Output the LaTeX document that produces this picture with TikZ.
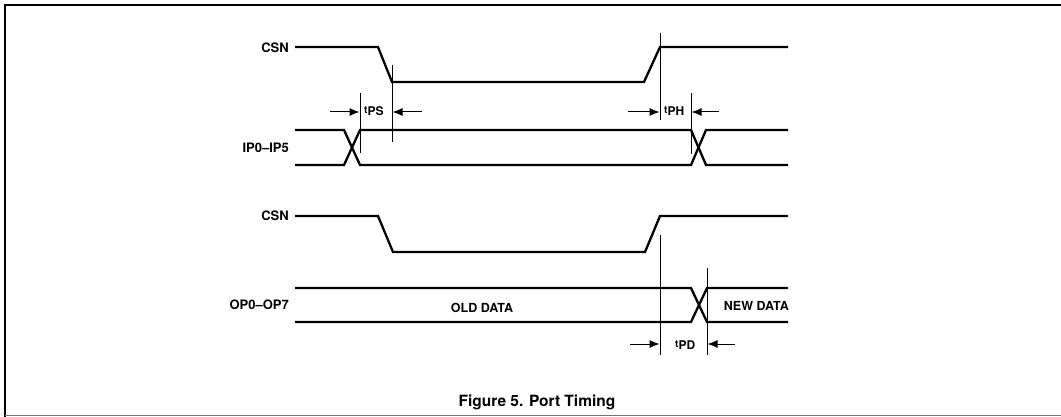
\documentclass[tikz,border=0pt]{standalone}
\usepackage{fontspec}
\setmainfont{TeX Gyre Heros}
\usetikzlibrary{arrows.meta}
\begin{document}
\begin{tikzpicture}[x=1pt,y=-1pt,
  sig/.style={line width=2.3pt,line join=miter},
  marker/.style={line width=1pt},
  dim/.style={line width=1pt,-{Latex[length=10pt,width=8pt]}},
  lbl/.style={font=\fontsize{13}{13}\selectfont\bfseries,inner sep=0pt,anchor=east},
  tlbl/.style={font=\fontsize{12}{12}\selectfont\bfseries,inner sep=0pt,anchor=west},
  dlbl/.style={font=\fontsize{12.5}{12.5}\selectfont\bfseries,inner sep=0pt}]
\useasboundingbox (0,0) rectangle (1061,417);
% frame
\draw[line width=2pt] (5,417) -- (5,5.5) -- (1061,5.5);
\draw[line width=1.5pt,black!55] (5,415.5) -- (1061,415.5);

% labels
\node[lbl] (csn1) at (289,48) {CSN};
\node[lbl] (ip) at (289,148) {IP0--IP5};
\node[lbl] (csn2) at (289,216) {CSN};
\node[lbl] (op) at (289,305) {OP0--OP7};

% CSN 1
\draw[sig] (295,47) -- (378,47) -- (392,82) -- (644,82) -- (660,47) -- (788,47);
% IP bus
\draw[sig] (295,130) -- (344,130) -- (360,165) -- (691,165) -- (706,130) -- (788,130);
\draw[sig] (295,165) -- (344,165) -- (360,130) -- (691,130) -- (706,165) -- (788,165);
% CSN 2
\draw[sig] (295,216) -- (378,216) -- (393,252) -- (645,252) -- (660,216) -- (788,216);
% OP bus
\draw[sig] (295,288) -- (691,288) -- (707,322) -- (788,322);
\draw[sig] (295,322) -- (691,322) -- (707,288) -- (788,288);

% markers
\coordinate (m1t) at (360,93);  \coordinate (m1b) at (360,153);
\coordinate (m2t) at (392,65);  \coordinate (m2b) at (392,142);
\coordinate (m3t) at (660,33);  \coordinate (m3b) at (660,120);
\coordinate (m4t) at (691,93);  \coordinate (m4b) at (691,154);
\coordinate (m5t) at (660,235); \coordinate (m5b) at (660,355);
\coordinate (m6t) at (707,268); \coordinate (m6b) at (707,355);
\foreach \m in {1,...,6} \draw[marker] (m\m t) -- (m\m b);

% tPS
\coordinate (a1) at (330,112); \coordinate (a1e) at (359.5,112);
\coordinate (a2) at (422,112); \coordinate (a2e) at (392.5,112);
\draw[dim] (a1) -- (a1e);
\draw[dim] (a2) -- (a2e);
\node[tlbl] (tps) at (364,111) {{\fontsize{10}{10}\selectfont t}\raisebox{-2pt}{PS}};
% tPH
\coordinate (b1) at (628,112); \coordinate (b1e) at (659.5,112);
\coordinate (b2) at (719,112); \coordinate (b2e) at (691.5,112);
\draw[dim] (b1) -- (b1e);
\draw[dim] (b2) -- (b2e);
\node[tlbl] (tph) at (664,111) {{\fontsize{10}{10}\selectfont t}\raisebox{-2pt}{PH}};
% tPD
\coordinate (c1) at (630,344); \coordinate (c1e) at (659.5,344);
\coordinate (c2) at (735,344); \coordinate (c2e) at (707.5,344);
\draw[dim] (c1) -- (c1e);
\draw[dim] (c2) -- (c2e);
\node[tlbl] (tpd) at (675,345) {{\fontsize{10}{10}\selectfont t}\raisebox{-2pt}{PD}};

% data labels
\node[dlbl] (old) at (482,308) {OLD DATA};
\node[dlbl,anchor=east] (new) at (789,306) {NEW DATA};

% caption
\node[font=\fontsize{15.5}{15.5}\selectfont\bfseries,inner sep=0pt] (cap) at (537,402) {Figure 5. Port Timing};
\end{tikzpicture}
\end{document}
